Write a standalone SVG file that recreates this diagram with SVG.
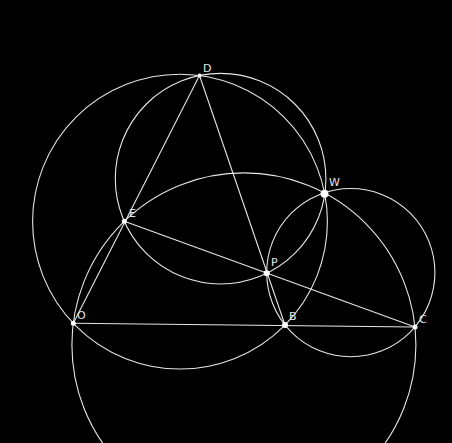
<svg xmlns="http://www.w3.org/2000/svg" width="452" height="443" viewBox="0 0 452 443">
<style>
.c{fill:none;stroke:#e6e6e6;stroke-width:1.1}
.p{fill:#ffffff}
.t{fill:#e6e6e6;font-family:"DejaVu Sans","Liberation Sans",sans-serif;font-size:11px}
</style>
<rect width="452" height="443" fill="#000000"/>
<g id="connectors">
<circle class="c" cx="220.6" cy="178.7" r="105.3"/>
<circle class="c" cx="180.0" cy="221.6" r="147.4"/>
<circle class="c" cx="243.9" cy="344.9" r="172.0"/>
<circle class="c" cx="350.8" cy="272.6" r="84.1"/>
<line class="c" x1="199.5" y1="75.5" x2="73.3" y2="323.3"/>
<line class="c" x1="199.5" y1="75.5" x2="285" y2="325"/>
<line class="c" x1="124.3" y1="221.3" x2="415" y2="327"/>
<line class="c" x1="73.3" y1="323.3" x2="415" y2="327"/>
</g>
<g id="D"><circle class="p" cx="199.5" cy="75.5" r="2"/><text class="t" x="203" y="72">D</text></g>
<g id="W"><circle class="p" cx="324.5" cy="193.8" r="4"/><text class="t" x="329" y="186">W</text></g>
<g id="E"><circle class="p" cx="124.3" cy="221.3" r="2.5"/><text class="t" x="129" y="217">E</text></g>
<g id="P"><circle class="p" cx="266.7" cy="273.3" r="3"/><text class="t" x="271" y="266">P</text></g>
<g id="O"><circle class="p" cx="73.3" cy="323.3" r="2.5"/><text class="t" x="77" y="319">O</text></g>
<g id="B"><circle class="p" cx="285" cy="325" r="3"/><text class="t" x="289" y="320">B</text></g>
<g id="C"><circle class="p" cx="415" cy="327" r="2.5"/><text class="t" x="419" y="323">C</text></g>
</svg>
